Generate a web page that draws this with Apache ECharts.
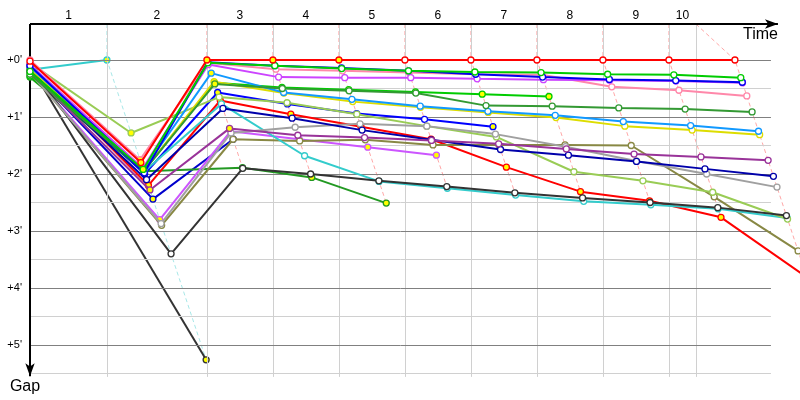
<!DOCTYPE html>
<html>
<head>
<meta charset="utf-8">
<script src="https://cdn.jsdelivr.net/npm/echarts@6/dist/echarts.min.js"></script>
<style>
  html, body { margin: 0; padding: 0; background: #fff; }
  #chart { width: 800px; height: 400px; }
</style>
</head>
<body>
<div id="chart"></div>
<script>
// lap labels and where the lap lines sit on the time axis (minutes)
const lapLabels = ['1', '2', '3', '4', '5', '6', '7', '8', '9', '10'];
const lapLines = [4.08, 9.38, 12.88, 16.38, 19.88, 23.38, 26.88, 30.38, 33.88, 35.31];
// leader crossing time for each lap
const crossTimes = [4.08, 9.38, 12.88, 16.38, 19.88, 23.38, 26.88, 30.38, 33.88, 37.38];
const gapTicks = [0, 1, 2, 3, 4, 5];
const gapMinor = [0.5, 1.5, 2.5, 3.5, 4.5, 5.5];

// gap to leader in minutes: start, then lap 1..10 (null = retired)
const red      = [0.02, 1.80, 0, 0, 0, 0, 0, 0, 0, 0, 0];
const green    = [0.20, 1.92, 0.05, 0.10, 0.15, 0.19, 0.21, 0.22, 0.25, 0.26, 0.31];
const blue     = [0.10, 1.98, 0.04, 0.10, 0.14, 0.19, 0.25, 0.30, 0.34, 0.36, 0.39];
const violet   = [0.08, 1.90, 0.08, 0.30, 0.31, 0.31, 0.33, 0.345, 0.355, 0.37, 0.40];
const pink     = [0.00, 1.75, 0.05, 0.16, 0.19, 0.22, 0.25, 0.26, 0.47, 0.53, 0.63];
const dkgreen  = [0.25, 1.95, 0.42, 0.50, 0.54, 0.58, 0.80, 0.81, 0.84, 0.86, 0.91];
const ltblue   = [0.12, 1.93, 0.23, 0.57, 0.69, 0.81, 0.90, 0.97, 1.08, 1.15, 1.25];
const yellow   = [0.15, 1.95, 0.38, 0.58, 0.73, 0.83, 0.92, 1.01, 1.16, 1.23, 1.31];
const purple   = [0.20, 2.28, 1.20, 1.32, 1.36, 1.41, 1.47, 1.56, 1.65, 1.70, 1.76];
const navy     = [0.18, 2.10, 0.85, 1.02, 1.23, 1.40, 1.57, 1.67, 1.78, 1.91, 2.04];
const gray     = [0.22, 2.87, 1.28, 1.18, 1.12, 1.16, 1.30, 1.52, 1.77, 2.00, 2.23];
const black    = [0.12, 3.40, 1.90, 2.00, 2.12, 2.22, 2.33, 2.42, 2.50, 2.59, 2.73];
const ltgreen  = [0.05, 1.28, 0.65, 0.75, 0.95, 1.16, 1.35, 1.96, 2.12, 2.32, 2.79];
const cyan     = [0.14, 1.96, 0.77, 1.68, 2.13, 2.25, 2.37, 2.48, 2.54, 2.61, 2.77];
const olive    = [0.22, 2.90, 1.39, 1.42, 1.40, 1.49, 1.49, 1.49, 1.50, 2.40, 3.35];
const red2     = [0.10, 2.20, 0.71, 0.95, 1.17, 1.39, 1.88, 2.31, 2.47, 2.76, 3.81];
const green2   = [0.28, 1.95, 0.40, 0.48, 0.52, 0.56, 0.60, 0.64, null, null, null];
const blue2    = [0.15, 2.00, 0.57, 0.77, 0.94, 1.04, 1.17, null, null, null, null];
const violet2  = [0.20, 2.80, 1.25, 1.39, 1.53, 1.67, null, null, null, null, null];
const dkgreen2 = [0.30, 1.95, 1.89, 2.06, 2.51, null, null, null, null, null, null];
const blue3    = [0.18, 2.44, 1.39, null, null, null, null, null, null, null, null];
const black2   = [0.10, 5.26, null, null, null, null, null, null, null, null, null];
const cyan2    = [0.17, 0.00, null, null, null, null, null, null, null, null, null];

// laps whose marker is filled yellow
const redY = [1, 2, 3, 4];
const pinkY = [1];
const ltblueY = [2];
const yellowY = [1, 2, 6];
const greenY = [1];
const dkgreenY = [1, 2];
const green2Y = [1, 2, 3, 4, 5, 6, 7];
const blue2Y = [1, 2, 3, 6];
const red2Y = [1, 2, 3, 4, 5, 6, 7, 8, 9];
const purpleY = [1, 2];
const violet2Y = [1, 2, 3, 4, 5];
const dkgreen2Y = [1, 2, 3, 4];
const blue3Y = [1, 2];
const black2Y = [1];
const cyan2Y = [1];
const ltgreenY = [1];

const riders = [
  { gaps: cyan2, color: '#33cccc', yellow: cyan2Y },
  { gaps: black2, color: '#333333', yellow: black2Y },
  { gaps: blue3, color: '#0000cc', yellow: blue3Y },
  { gaps: dkgreen2, color: '#229922', yellow: dkgreen2Y },
  { gaps: violet2, color: '#cc55ff', yellow: violet2Y },
  { gaps: blue2, color: '#0000ff', yellow: blue2Y },
  { gaps: green2, color: '#00cc00', yellow: green2Y },
  { gaps: red2, color: '#ff0000', yellow: red2Y },
  { gaps: olive, color: '#888844', yellow: [] },
  { gaps: cyan, color: '#33cccc', yellow: [] },
  { gaps: ltgreen, color: '#99cc55', yellow: ltgreenY },
  { gaps: black, color: '#333333', yellow: [] },
  { gaps: gray, color: '#a0a0a0', yellow: [] },
  { gaps: navy, color: '#0000aa', yellow: [] },
  { gaps: purple, color: '#993399', yellow: purpleY },
  { gaps: yellow, color: '#dddd00', yellow: yellowY },
  { gaps: ltblue, color: '#1199ff', yellow: ltblueY },
  { gaps: dkgreen, color: '#339933', yellow: dkgreenY },
  { gaps: pink, color: '#ff88aa', yellow: pinkY },
  { gaps: violet, color: '#cc44ff', yellow: [] },
  { gaps: blue, color: '#0000ee', yellow: [] },
  { gaps: green, color: '#00cc00', yellow: greenY },
  { gaps: red, color: '#ff0000', yellow: redY }
];

const yMin = -0.632;
const yMax = 5.56;
const yArrow = 5.55;
const xGridEnd = 39.29;
const xArrow = 39.66;
const xMax = 40.83;

const labelMids = lapLines.map((t, i) => ((i === 0 ? 0 : lapLines[i - 1]) + t) / 2);

function pointTime(lap, gap) {
  return lap === 0 ? 0 : crossTimes[lap - 1] + gap;
}

const hLine = v => [{ coord: [0, v] }, { coord: [xGridEnd, v] }];
const series = [];

// grid lines
series.push({
  type: 'line', data: [], z: 1, silent: true,
  markLine: {
    silent: true, symbol: 'none', label: { show: false }, animation: false,
    lineStyle: { color: '#d0d0d0', width: 1, type: 'solid' },
    data: gapMinor.map(hLine).concat(lapLines.map(v => ({ xAxis: v })))
  }
});
series.push({
  type: 'line', data: [], z: 1, silent: true,
  markLine: {
    silent: true, symbol: 'none', label: { show: false }, animation: false,
    lineStyle: { color: '#808080', width: 1, type: 'solid' },
    data: gapTicks.map(hLine)
  }
});

// lap crossing lines (dashed)
for (let k = 1; k <= lapLabels.length; k++) {
  const pts = [];
  riders.forEach(r => {
    const g = r.gaps[k];
    if (g !== null && g !== undefined) pts.push([pointTime(k, g), g]);
  });
  pts.sort((a, b) => a[1] - b[1]);
  series.push({
    type: 'line', z: 2, silent: true, symbol: 'none', clip: false,
    data: [[lapLines[k - 1], yMin]].concat(pts),
    lineStyle: { color: k === 1 ? '#a8e8e8' : '#ffa8a8', width: 1, type: [4, 3] }
  });
}

// riders
riders.forEach((r, idx) => {
  const data = [];
  r.gaps.forEach((g, lap) => {
    if (g === null) return;
    data.push({
      value: [pointTime(lap, g), g],
      itemStyle: { color: r.yellow.indexOf(lap) >= 0 ? '#ffff00' : '#ffffff' }
    });
  });
  series.push({
    type: 'line', z: 3 + idx, clip: false, silent: true,
    data: data,
    symbol: 'circle', symbolSize: 6, showSymbol: true,
    lineStyle: { color: r.color, width: 2 },
    itemStyle: { borderColor: r.color, borderWidth: 1.3 }
  });
});

// axis lines with arrows
series.push({
  type: 'line', data: [], z: 100, silent: true, clip: false,
  markLine: {
    silent: true, label: { show: false }, animation: false,
    symbol: ['none', 'arrow'], symbolSize: [1, 10],
    lineStyle: { color: '#000', width: 2, type: 'solid' },
    data: [
      [{ coord: [0, yMin], symbol: 'none' }, { coord: [xArrow, yMin], symbol: 'arrow', symbolSize: [7, 13] }],
      [{ coord: [0, yMin], symbol: 'none' }, { coord: [0, yArrow], symbol: 'arrow', symbolSize: [7, 13] }]
    ]
  }
});

const chart = echarts.init(document.getElementById('chart'));
chart.setOption({
  animation: false,
  backgroundColor: '#ffffff',
  grid: { left: 30, right: 0, top: 24, bottom: 23.1 },
  graphic: [{
    type: 'text', left: 743, top: 27, silent: true,
    style: { text: 'Time', fill: '#000', font: '16px "Liberation Sans", Arial, sans-serif' }
  }],
  xAxis: {
    type: 'value', position: 'top', min: 0, max: xMax,
    axisLine: { show: false },
    axisTick: { show: false },
    splitLine: { show: false },
    axisLabel: {
      customValues: labelMids, margin: 2, color: '#000', fontSize: 12,
      fontFamily: 'Liberation Sans, Arial, sans-serif',
      formatter: v => {
        const i = labelMids.findIndex(m => Math.abs(m - v) < 1e-6);
        return i >= 0 ? lapLabels[i] : '';
      }
    }
  },
  yAxis: {
    type: 'value', inverse: true, min: yMin, max: yMax,
    axisLine: { show: false },
    axisTick: { show: false },
    splitLine: { show: false },
    axisLabel: {
      customValues: gapTicks, margin: 8, color: '#000', fontSize: 11,
      fontFamily: 'Liberation Sans, Arial, sans-serif',
      formatter: v => '+' + v + "'"
    },
    name: 'Gap', nameLocation: 'end', nameGap: 2,
    nameTextStyle: { color: '#000', fontSize: 16, fontFamily: 'Liberation Sans, Arial, sans-serif', padding: [0, 10, 0, 0] }
  },
  series: series
});
</script>
</body>
</html>
